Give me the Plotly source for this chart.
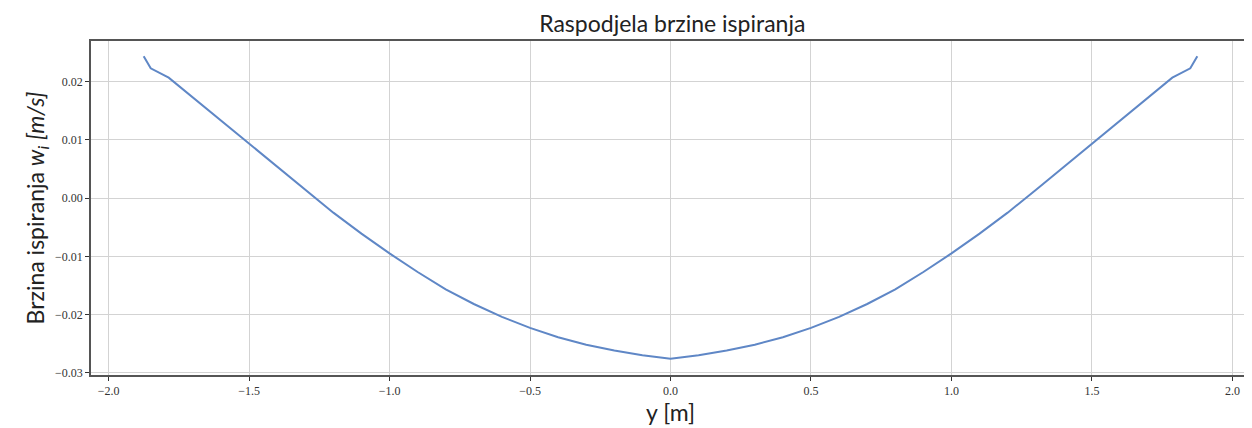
import plotly.graph_objects as go

span_y = [-1.875, -1.85, -1.786, -1.7, -1.6, -1.5, -1.4, -1.3, -1.2, -1.1, -1.0,
          -0.9, -0.8, -0.7, -0.6, -0.5, -0.4, -0.3, -0.2, -0.1, 0.0,
          0.1, 0.2, 0.3, 0.4, 0.5, 0.6, 0.7, 0.8, 0.9, 1.0,
          1.1, 1.2, 1.3, 1.4, 1.5, 1.6, 1.7, 1.786, 1.85, 1.875]
w_i = [0.0244, 0.0223, 0.0207, 0.0173, 0.0134, 0.0093, 0.0054, 0.0014, -0.0025, -0.0061, -0.0095,
       -0.0127, -0.0157, -0.0182, -0.0204, -0.0223, -0.0239, -0.0252, -0.0262, -0.0270, -0.0276,
       -0.0270, -0.0262, -0.0252, -0.0239, -0.0223, -0.0204, -0.0182, -0.0157, -0.0127, -0.0095,
       -0.0061, -0.0025, 0.0014, 0.0054, 0.0093, 0.0134, 0.0173, 0.0207, 0.0223, 0.0244]
x_ticks = [-2.0, -1.5, -1.0, -0.5, 0.0, 0.5, 1.0, 1.5, 2.0]
y_ticks = [-0.03, -0.02, -0.01, 0.00, 0.01, 0.02]

fig = go.Figure()
fig.add_trace(go.Scatter(x=span_y, y=w_i, mode="lines",
                         line=dict(color="#5f87c6", width=2),
                         showlegend=False))

axis_common = dict(showline=True, linecolor="#555555", linewidth=1.5, mirror=True,
                   showgrid=True, gridcolor="#d3d3d3", gridwidth=1,
                   ticks="outside", ticklen=4, tickcolor="#333333", zeroline=False,
                   tickfont=dict(family="Liberation Serif", size=12, color="#333333"))

fig.update_layout(
    width=1244, height=420,
    margin=dict(l=83, r=0, t=33, b=53),
    paper_bgcolor="white", plot_bgcolor="white",
    title=dict(text="Raspodjela brzine ispiranja", x=0.534, xanchor="center",
               y=0.962, yanchor="middle",
               font=dict(family="Lato", size=23, color="#222222")),
    xaxis=dict(range=[-2.0625, 2.0625], tickvals=x_ticks, tickformat=".1f",
               title=dict(text="y [m]", standoff=4,
                          font=dict(family="Lato", size=23, color="#222222")),
               **axis_common),
    yaxis=dict(range=[-0.0304, 0.0270], tickvals=y_ticks, tickformat=".2f",
               title=dict(text="Brzina ispiranja <i>w<sub>i</sub></i> <i>[m/s]</i>", standoff=4,
                          font=dict(family="Lato", size=23, color="#222222")),
               **axis_common),
)

fig.write_html("out.html")
